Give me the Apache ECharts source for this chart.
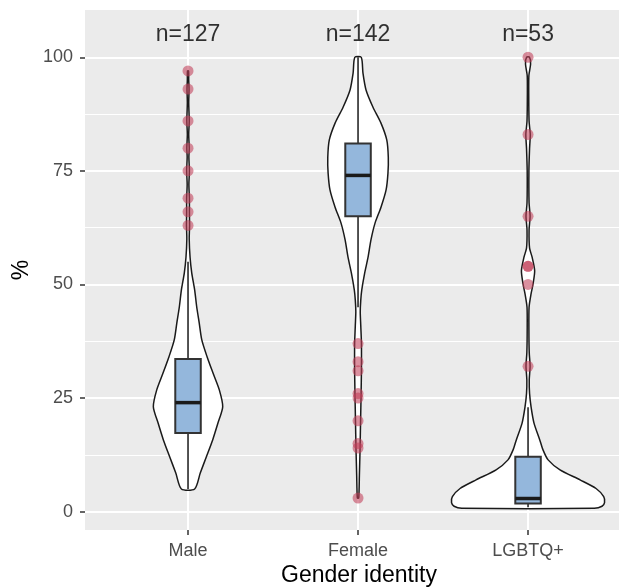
<!DOCTYPE html>
<html>
<head>
<meta charset="utf-8">
<script src="https://cdn.jsdelivr.net/npm/echarts@6/dist/echarts.min.js"></script>
<style>
html,body{margin:0;padding:0;background:#fff;}
#chart{width:619px;height:587px;}
</style>
</head>
<body>
<div id="chart"></div>
<script>
// ---- data ----
const categories = ['Male', 'Female', 'LGBTQ+'];
const countLabels = ['n=127', 'n=142', 'n=53'];
const countLabelY = 105;
const yTicks = [0, 25, 50, 75, 100];
const yMinorTicks = [12.5, 37.5, 62.5, 87.5];

// box stats: [lower whisker, Q1, median, Q3, upper whisker]
const boxMale = [5, 17.3, 24, 33.6, 55];
const boxFemale = [45, 65, 74, 81, 100];
const boxLgbtq = [1, 1.8, 2.9, 12.1, 23];

const outliersMale = [97, 93, 86, 80, 75, 69, 66, 63];
const outliersFemale = [37, 33, 31, 26, 25, 20, 15, 14, 3];
const outliersLgbtq = [100, 83, 65, 54, 54, 50, 32];

// violin profiles: [value, half-width in category units]
const violinMale = [[5,.039],[8.5,.072],[12.1,.108],[15.8,.145],[19.5,.176],[23.1,.204],[26.8,.184],[30.5,.147],[34.1,.112],[37.8,.081],[41.5,.066],[45.1,.051],[48.8,.039],[52.5,.022],[56,.012],[60,.007],[63,.009],[66,.008],[69,.008],[72,.005],[75,.008],[78,.005],[80,.007],[83,.004],[86,.007],[90,.004],[93,.006],[95,.004],[97,.003]];
const violinFemale = [[3,.004],[8,.008],[14,.012],[20,.015],[26,.018],[31,.02],[37,.02],[41,.016],[44,.013],[46.5,.016],[48.8,.022],[52.5,.039],[56,.059],[59.8,.076],[63.5,.1],[67,.135],[70.8,.165],[74.5,.176],[78,.178],[81.8,.169],[85.5,.135],[89,.088],[92.8,.047],[96.5,.029],[100,.019]];
const violinLgbtq = [[0.75,.39],[1.2,.435],[2,.45],[3.3,.445],[5.1,.40],[7.0,.306],[9.2,.188],[11.4,.118],[13.6,.088],[15.8,.069],[19.5,.035],[23,.018],[26,.009],[29,.007],[32,.012],[35,.007],[40,.005],[45,.006],[48,.018],[50,.029],[53,.039],[56,.024],[58,.009],[62,.006],[65,.012],[68,.006],[75,.005],[80,.009],[83,.013],[86,.006],[92,.004],[96,.005],[98.5,.015],[100,.009]];

const violins = [violinMale, violinFemale, violinLgbtq];
const boxes = [boxMale, boxFemale, boxLgbtq];
const outliers = [outliersMale, outliersFemale, outliersLgbtq];

// ---- build ----
const FONT = '"Liberation Sans", Arial, sans-serif';
const chart = echarts.init(document.getElementById('chart'), null, {renderer: 'canvas'});

const violinData = categories.map((c, i) => [i + 1]);
const boxData = categories.map((c, i) => [i + 1].concat(boxes[i]));
const pointData = [];
outliers.forEach((arr, i) => arr.forEach(v => pointData.push([i + 1, v])));
const countData = categories.map((c, i) => [i + 1, countLabelY]);

const gridMarks = [];
yTicks.forEach(v => gridMarks.push({yAxis: v, lineStyle: {color: '#fff', width: 2, type: 'solid'}}));
yMinorTicks.forEach(v => gridMarks.push({yAxis: v, lineStyle: {color: '#fff', width: 1, type: 'solid'}}));
categories.forEach((c, i) => gridMarks.push({xAxis: i + 1, lineStyle: {color: '#fff', width: 2, type: 'solid'}}));

const option = {
  animation: false,
  backgroundColor: '#fff',
  grid: {left: 85, right: 0, top: 10, bottom: 57, show: true, backgroundColor: '#EBEBEB', borderWidth: 0},
  xAxis: {
    type: 'value', min: 0.394, max: 3.535,
    axisLine: {show: false, onZero: false},
    splitLine: {show: false},
    axisTick: {show: true, customValues: [1, 2, 3], length: 5, lineStyle: {color: '#333', width: 1.5}},
    axisLabel: {customValues: [1, 2, 3], formatter: v => categories[Math.round(v) - 1] || '', fontSize: 18, fontFamily: FONT, color: '#4D4D4D', margin: 12}
  },
  yAxis: {
    type: 'value', min: -4.03, max: 110.4,
    axisLine: {show: false, onZero: false},
    splitLine: {show: false},
    axisTick: {show: true, customValues: yTicks, length: 5, lineStyle: {color: '#333', width: 1.5}},
    axisLabel: {customValues: yTicks, fontSize: 18, fontFamily: FONT, color: '#4D4D4D', margin: 12}
  },
  graphic: [
    {type: 'text', x: 359, y: 576, z: 100, style: {text: 'Gender identity', font: '23px ' + FONT, fill: '#000', align: 'center', verticalAlign: 'middle'}},
    {type: 'text', x: 22, y: 270, rotation: Math.PI / 2, z: 100, style: {text: '%', font: '23px ' + FONT, fill: '#000', align: 'center', verticalAlign: 'middle'}}
  ],
  series: [
    {
      type: 'line', data: [], z: 0, silent: true,
      markLine: {silent: true, z: 0, symbol: ['none', 'none'], label: {show: false}, animation: false, data: gridMarks}
    },
    {
      type: 'custom', z: 2, silent: true, data: violinData,
      renderItem: function (params, api) {
        const cat = api.value(0);
        const prof = violins[params.dataIndex];
        const pts = [];
        for (let k = 0; k < prof.length; k++) pts.push(api.coord([cat + prof[k][1], prof[k][0]]));
        for (let k = prof.length - 1; k >= 0; k--) pts.push(api.coord([cat - prof[k][1], prof[k][0]]));
        return {type: 'polygon', shape: {points: pts, smooth: 0.25}, style: {fill: '#fff', stroke: '#1a1a1a', lineWidth: 1.5}};
      }
    },
    {
      type: 'custom', z: 3, silent: true, data: boxData,
      renderItem: function (params, api) {
        const cat = api.value(0);
        const hw = 0.075;
        const lo = api.coord([cat, api.value(1)]);
        const q1 = api.coord([cat, api.value(2)]);
        const md = api.value(3);
        const q3 = api.coord([cat, api.value(4)]);
        const hi = api.coord([cat, api.value(5)]);
        const tl = api.coord([cat - hw, api.value(4)]);
        const br = api.coord([cat + hw, api.value(2)]);
        const ml = api.coord([cat - hw, md]);
        const mr = api.coord([cat + hw, md]);
        return {type: 'group', children: [
          {type: 'line', shape: {x1: lo[0], y1: lo[1], x2: q1[0], y2: q1[1]}, style: {stroke: '#1a1a1a', lineWidth: 1.5}},
          {type: 'line', shape: {x1: q3[0], y1: q3[1], x2: hi[0], y2: hi[1]}, style: {stroke: '#1a1a1a', lineWidth: 1.5}},
          {type: 'rect', shape: {x: tl[0], y: tl[1], width: br[0] - tl[0], height: br[1] - tl[1]}, style: {fill: '#94B7DC', stroke: '#333', lineWidth: 2}},
          {type: 'line', shape: {x1: ml[0], y1: ml[1], x2: mr[0], y2: mr[1]}, style: {stroke: '#1a1a1a', lineWidth: 3.5}}
        ]};
      }
    },
    {
      type: 'scatter', z: 4, silent: true, data: pointData, symbol: 'circle', symbolSize: 11,
      itemStyle: {color: 'rgba(192,62,88,0.72)', borderWidth: 0}
    },
    {
      type: 'scatter', z: 5, silent: true, data: countData, symbolSize: 0,
      label: {show: true, position: 'inside', formatter: p => countLabels[p.dataIndex], fontSize: 23, fontFamily: FONT, color: '#000'}
    }
  ]
};
chart.setOption(option);
</script>
</body>
</html>
